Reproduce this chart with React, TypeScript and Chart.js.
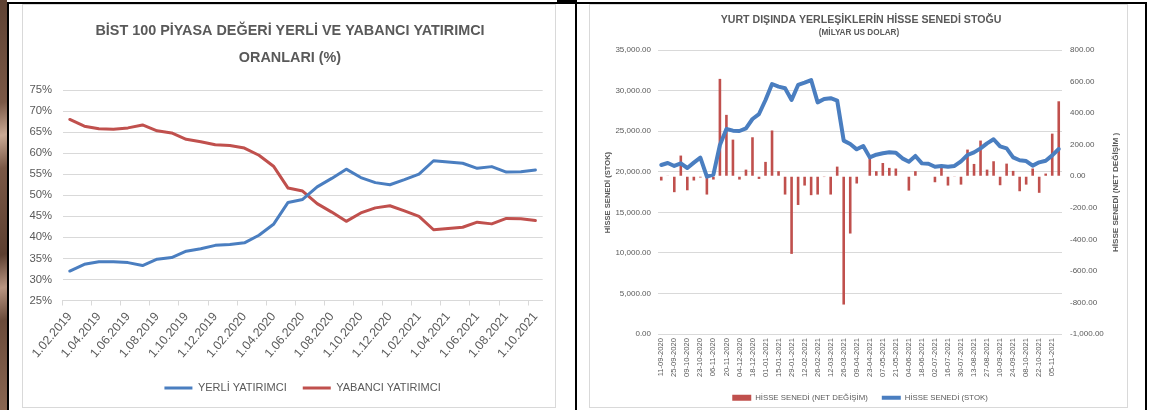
import React, { useEffect, useRef } from 'react';
import { Chart, registerables } from 'chart.js';

Chart.register(...registerables);

const FONT = "'Liberation Sans', Arial, sans-serif";
const TEXT = '#595959';
const GRID = '#d9d9d9';
const BLUE = '#4a7ec0';
const RED = '#c0504d';

// ---- Left chart: BIST 100 market value shares (monthly) ----
const bistMonths = [
  '1.02.2019', '1.03.2019', '1.04.2019', '1.05.2019', '1.06.2019', '1.07.2019', '1.08.2019',
  '1.09.2019', '1.10.2019', '1.11.2019', '1.12.2019', '1.01.2020', '1.02.2020', '1.03.2020',
  '1.04.2020', '1.05.2020', '1.06.2020', '1.07.2020', '1.08.2020', '1.09.2020', '1.10.2020',
  '1.11.2020', '1.12.2020', '1.01.2021', '1.02.2021', '1.03.2021', '1.04.2021', '1.05.2021',
  '1.06.2021', '1.07.2021', '1.08.2021', '1.09.2021', '1.10.2021',
];
const yerliShare = [
  32.0, 33.6, 34.2, 34.2, 34.0, 33.3, 34.8, 35.2, 36.7, 37.3, 38.1, 38.3, 38.7, 40.5, 43.1,
  48.3, 49.0, 52.0, 54.0, 56.2, 54.2, 53.0, 52.5, 53.7, 55.0, 58.2, 57.9, 57.6, 56.4, 56.8,
  55.5, 55.6, 56.0,
];
const yabanciShare = [
  68.0, 66.4, 65.8, 65.7, 66.0, 66.7, 65.3, 64.8, 63.3, 62.7, 62.0, 61.8, 61.2, 59.5, 56.9,
  51.7, 51.0, 48.0, 46.0, 43.8, 45.8, 47.0, 47.5, 46.3, 45.0, 41.8, 42.1, 42.4, 43.6, 43.2,
  44.5, 44.4, 44.0,
];

// ---- Right chart: non-resident equity stock (weekly) ----
const stockWeeks = [
  '11-09-2020', '18-09-2020', '25-09-2020', '02-10-2020', '09-10-2020', '16-10-2020', '23-10-2020',
  '30-10-2020', '06-11-2020', '13-11-2020', '20-11-2020', '27-11-2020', '04-12-2020', '11-12-2020',
  '18-12-2020', '25-12-2020', '01-01-2021', '08-01-2021', '15-01-2021', '22-01-2021', '29-01-2021',
  '05-02-2021', '12-02-2021', '19-02-2021', '26-02-2021', '05-03-2021', '12-03-2021', '19-03-2021',
  '26-03-2021', '02-04-2021', '09-04-2021', '16-04-2021', '23-04-2021', '30-04-2021', '07-05-2021',
  '14-05-2021', '21-05-2021', '28-05-2021', '04-06-2021', '11-06-2021', '18-06-2021', '25-06-2021',
  '02-07-2021', '09-07-2021', '16-07-2021', '23-07-2021', '30-07-2021', '06-08-2021', '13-08-2021',
  '20-08-2021', '27-08-2021', '03-09-2021', '10-09-2021', '17-09-2021', '24-09-2021', '01-10-2021',
  '08-10-2021', '15-10-2021', '22-10-2021', '29-10-2021', '05-11-2021', '12-11-2021',
];
const netChange = [
  -27, 4, -101, 131, -89, -27, -8, -116, -21, 617,
  389, 232, -21, 42, 247, -17, 91, 290, 32, -116,
  -492, -182, -59, -120, -116, -5, -116, 61, -813, -363,
  -46, -3, 116, 32, 84, 53, 49, -3, -91, 32,
  -3, -3, -38, 59, -59, -2, -53, 169, 78, 226,
  42, 95, -57, 80, 34, -95, -53, 49, -105, 17,
  270, 475,
];
const stockLevel = [
  20830, 21080, 20710, 21030, 20460, 21120, 21730, 19390, 19640, 23290,
  25260, 25060, 25020, 25350, 26500, 27110, 28840, 30810, 30480, 30280,
  28840, 30690, 30970, 31300, 28550, 28960, 29060, 28760, 23830, 23420,
  22760, 23170, 21770, 22100, 22270, 22390, 22350, 21650, 21240, 21940,
  21030, 20990, 20620, 20710, 20620, 20710, 21280, 22060, 22390, 22880,
  23500, 24000, 23120, 22880, 21770, 21420, 21320, 20750, 21160, 21360,
  22020, 22800,
];

type TextItem = { text: string; x: number; y: number; size: number; bold?: boolean; rotate?: number };

function textPlugin(id: string, items: TextItem[]) {
  return {
    id,
    afterDraw(chart: any) {
      const ctx = chart.ctx as CanvasRenderingContext2D;
      for (const t of items) {
        ctx.save();
        ctx.translate(t.x, t.y);
        if (t.rotate) ctx.rotate(t.rotate);
        ctx.font = `${t.bold ? 'bold ' : ''}${t.size}px ${FONT}`;
        ctx.fillStyle = TEXT;
        ctx.textAlign = 'center';
        ctx.textBaseline = 'middle';
        ctx.fillText(t.text, 0, 0);
        ctx.restore();
      }
    },
  };
}

const fmt2 = (v: any) =>
  Number(v).toLocaleString('en-US', { minimumFractionDigits: 2, maximumFractionDigits: 2 });

export default function App() {
  const leftRef = useRef<HTMLCanvasElement | null>(null);
  const rightRef = useRef<HTMLCanvasElement | null>(null);

  useEffect(() => {
    Chart.defaults.font.family = FONT;
    Chart.defaults.color = TEXT;

    const left = new Chart(leftRef.current as HTMLCanvasElement, {
      type: 'line',
      data: {
        labels: bistMonths,
        datasets: [
          {
            label: 'YERLİ YATIRIMCI',
            data: yerliShare,
            borderColor: BLUE,
            backgroundColor: BLUE,
            borderWidth: 3,
            pointRadius: 0,
            pointStyle: 'line',
            pointBorderWidth: 3,
            pointBorderColor: BLUE,
            pointBackgroundColor: BLUE,
            tension: 0,
            borderJoinStyle: 'round',
            borderCapStyle: 'round',
          },
          {
            label: 'YABANCI YATIRIMCI',
            data: yabanciShare,
            borderColor: RED,
            backgroundColor: RED,
            borderWidth: 3,
            pointRadius: 0,
            pointStyle: 'line',
            pointBorderWidth: 3,
            pointBorderColor: RED,
            pointBackgroundColor: RED,
            tension: 0,
            borderJoinStyle: 'round',
            borderCapStyle: 'round',
          },
        ],
      },
      options: {
        responsive: false,
        animation: false,
        devicePixelRatio: 1,
        layout: { padding: { top: 85, left: 0, right: 12.3, bottom: 3.5 } },
        plugins: {
          tooltip: { enabled: false },
          legend: {
            position: 'bottom',
            fullSize: false,
            labels: {
              usePointStyle: true,
              pointStyleWidth: 28,
              font: { size: 11 },
              color: TEXT,
              padding: 16,
            },
          },
        },
        scales: {
          x: {
            offset: true,
            grid: {
              offset: true,
              drawOnChartArea: false,
              drawTicks: true,
              tickLength: 5,
              color: (c: any) => (c.index !== undefined && c.index % 2 === 0 ? GRID : 'rgba(0,0,0,0)'),
            },
            border: { display: true, color: GRID },
            ticks: {
              autoSkip: false,
              minRotation: 50,
              maxRotation: 50,
              padding: 4,
              font: { size: 12.3 },
              color: TEXT,
              callback: (_v: any, i: number) => (i % 2 === 0 ? bistMonths[i] : ''),
            },
            afterFit: (s: any) => {
              s.height = 66;
            },
          },
          y: {
            min: 25,
            max: 75,
            ticks: {
              stepSize: 5,
              padding: 10.5,
              font: { size: 11.3 },
              color: TEXT,
              callback: (v: any) => `${v}%`,
            },
            grid: { color: GRID, drawTicks: false },
            border: { display: false },
            afterFit: (s: any) => {
              s.width = 39.5;
            },
          },
        },
      },
      plugins: [
        textPlugin('leftTitles', [
          { text: 'BİST 100 PİYASA DEĞERİ YERLİ VE YABANCI YATIRIMCI', x: 267, y: 26, size: 14.4, bold: true },
          { text: 'ORANLARI (%)', x: 267, y: 53, size: 14.4, bold: true },
        ]),
      ],
    } as any);

    const right = new Chart(rightRef.current as HTMLCanvasElement, {
      type: 'bar',
      data: {
        labels: stockWeeks,
        datasets: [
          {
            type: 'bar',
            label: 'HİSSE SENEDİ (NET DEĞİŞİM)',
            data: netChange,
            yAxisID: 'yNet',
            backgroundColor: RED,
            borderWidth: 0,
            categoryPercentage: 1,
            barPercentage: 0.4,
            pointStyle: 'rect',
            order: 2,
          },
          {
            type: 'line',
            label: 'HİSSE SENEDİ (STOK)',
            data: stockLevel,
            yAxisID: 'yStock',
            borderColor: BLUE,
            backgroundColor: BLUE,
            borderWidth: 4,
            pointRadius: 0,
            pointStyle: 'line',
            pointBorderWidth: 4,
            pointBorderColor: BLUE,
            pointBackgroundColor: BLUE,
            tension: 0,
            borderJoinStyle: 'round',
            borderCapStyle: 'round',
            order: 1,
          },
        ],
      },
      options: {
        responsive: false,
        animation: false,
        devicePixelRatio: 1,
        layout: { padding: { top: 45, left: 0, right: 0, bottom: -4.75 } },
        plugins: {
          tooltip: { enabled: false },
          legend: {
            position: 'bottom',
            fullSize: false,
            labels: {
              usePointStyle: true,
              pointStyleWidth: 19,
              boxHeight: 6,
              font: { size: 7.8 },
              color: TEXT,
              padding: 14,
              sort: (a: any, b: any) => a.datasetIndex - b.datasetIndex,
            },
          },
        },
        scales: {
          x: {
            offset: true,
            grid: { display: false, drawTicks: false },
            border: { display: false },
            ticks: {
              autoSkip: false,
              minRotation: 90,
              maxRotation: 90,
              padding: 4,
              font: { size: 7.6 },
              color: TEXT,
              callback: (_v: any, i: number) => (i % 2 === 0 ? stockWeeks[i] : ''),
            },
            afterFit: (s: any) => {
              s.height = 45.9;
            },
          },
          yStock: {
            type: 'linear',
            position: 'left',
            min: 0,
            max: 35000,
            ticks: { stepSize: 5000, padding: 7, font: { size: 8 }, color: TEXT, callback: fmt2 },
            grid: { color: GRID, drawTicks: false },
            border: { display: false },
            afterFit: (s: any) => {
              s.width = 68;
            },
          },
          yNet: {
            type: 'linear',
            position: 'right',
            min: -1000,
            max: 800,
            ticks: { stepSize: 200, padding: 8, font: { size: 8 }, color: TEXT, callback: fmt2 },
            grid: { drawOnChartArea: false, drawTicks: false },
            border: { display: false },
            afterFit: (s: any) => {
              s.width = 65;
            },
          },
        },
      },
      plugins: [
        textPlugin('rightTitles', [
          { text: 'YURT DIŞINDA YERLEŞİKLERİN HİSSE SENEDİ STOĞU', x: 271, y: 15, size: 10.6, bold: true },
          { text: '(MİLYAR US DOLAR)', x: 269, y: 28, size: 8.2, bold: true },
          { text: 'HİSSE SENEDİ (STOK)', x: 17.7, y: 187.5, size: 7.6, bold: true, rotate: -Math.PI / 2 },
          { text: 'HİSSE SENEDİ (NET DEĞİŞİM )', x: 526, y: 187.5, size: 8.1, bold: true, rotate: -Math.PI / 2 },
        ]),
      ],
    } as any);

    return () => {
      left.destroy();
      right.destroy();
    };
  }, []);

  const abs = (l: number, t: number, w: number, h: number, extra: React.CSSProperties = {}): React.CSSProperties => ({
    position: 'absolute',
    left: l,
    top: t,
    width: w,
    height: h,
    ...extra,
  });

  return (
    <div style={abs(0, 0, 1153, 410, { background: '#ffffff', overflow: 'hidden' })}>
      <div
        style={abs(0, 0, 7, 410, {
          background:
            'linear-gradient(165deg, #5e4233 0%, #7a5846 25%, #c9a994 33%, #7a5846 41%, #5c3f30 62%, #b89581 70%, #6a4b3a 78%, #8a6752 100%)',
        })}
      />
      <div style={abs(7, 2, 1140, 2, { background: '#000' })} />
      <div style={abs(7, 2, 2, 408, { background: '#000' })} />
      <div style={abs(557, 0, 19, 4, { background: '#000' })} />
      <div style={abs(575, 0, 2, 410, { background: '#000' })} />
      <div style={abs(1145, 2, 2, 408, { background: '#000' })} />

      <div style={abs(22, 4, 534, 404, { border: '1px solid #d9d9d9', boxSizing: 'border-box', background: '#fff' })} />
      <canvas ref={leftRef} width={532} height={402} style={abs(23, 5, 532, 402)} />

      <div style={abs(589, 4, 539, 404, { border: '1px solid #d9d9d9', boxSizing: 'border-box', background: '#fff' })} />
      <canvas ref={rightRef} width={537} height={402} style={abs(590, 5, 537, 402)} />
    </div>
  );
}
